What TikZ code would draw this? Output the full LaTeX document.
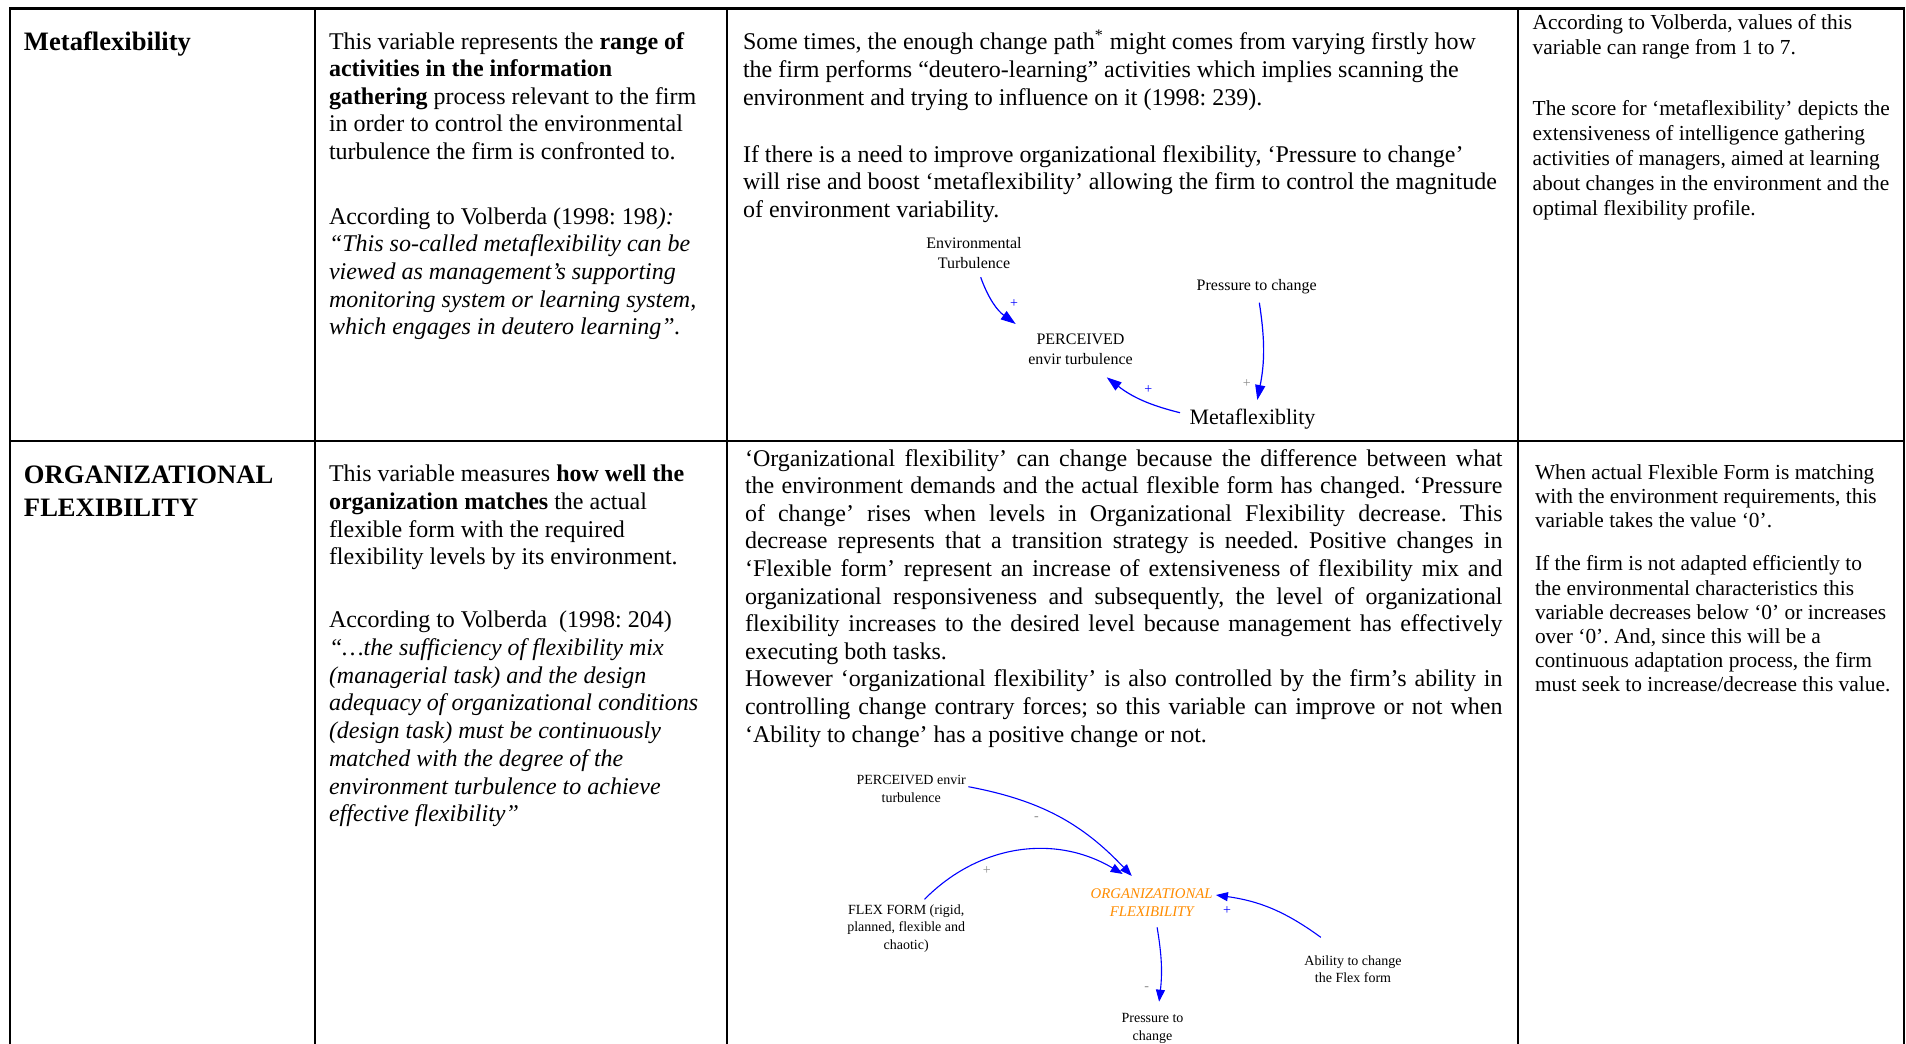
\documentclass[tikz,border=0pt]{standalone}
\usepackage{fontspec}
\setmainfont{Liberation Serif}
\usetikzlibrary{arrows.meta}

\definecolor{cldblue}{RGB}{0,0,255}
\definecolor{cldgrey}{RGB}{140,140,140}
\definecolor{orgorange}{RGB}{255,140,0}

\frenchspacing
% paragraph block: width, font size, line skip, text
\newcommand\cellpar[4]{\parbox[t]{#1}{\fontsize{#2}{#3}\selectfont\raggedright #4}}
% one fully justified line of a paragraph
\newcommand\jline[1]{\makebox[\linewidth][s]{#1}\par}
% centred multi-line variable name, baseline on its first line
\newcommand\ctr[1]{\begin{tabular}[t]{@{}c@{}}#1\end{tabular}}

\begin{document}
\begin{tikzpicture}[x=0.5pt,y=-0.5pt,
  rule/.style={line width=1.4pt, line cap=rect},
  cell/.style={anchor=base west, inner sep=0pt, outer sep=0pt},
  var/.style={anchor=base, inner sep=0pt, outer sep=0pt},
  smallvar/.style={var, font=\fontsize{8}{10}\selectfont},
  tinyvar/.style={var, font=\fontsize{7}{8.7}\selectfont},
  link/.style={draw=cldblue, line width=0.6pt, -{Triangle[length=7.5pt,width=5pt]}},
  linkb/.style={draw=cldblue, line width=0.55pt, -{Triangle[length=6pt,width=4.5pt]}},
  pol/.style={inner sep=0pt, font=\fontsize{7}{8}\selectfont},
]
\useasboundingbox (0,0) rectangle (1906,1044);

% table grid
\draw[rule] (10,8.5) -- (1904,8.5);
\draw[rule] (10,441) -- (1904,441);
\draw[rule] (10,8.5) -- (10,1050);
\draw[rule] (315,8.5) -- (315,1050);
\draw[rule] (727,8.5) -- (727,1050);
\draw[rule] (1518,8.5) -- (1518,1050);
\draw[rule] (1904,8.5) -- (1904,1050);

% ---------- row 1 ----------
\node[cell] (name1) at (24,50) {\cellpar{143pt}{13.3}{15.7}{\bfseries Metaflexibility}};

\node[cell] (def1a) at (329,49.2) {\cellpar{200pt}{12}{13.8}{%
This variable represents the \textbf{range of}\\
\textbf{activities in the information}\\
\textbf{gathering} process relevant to the firm\\
in order to control the environmental\\
turbulence the firm is confronted to.}};

\node[cell] (def1b) at (329,224.2) {\cellpar{200pt}{12}{13.8}{%
According to Volberda (1998: 198\textit{):}\\
\textit{“This so-called metaflexibility can be}\\
\textit{viewed as management's supporting}\\
\textit{monitoring system or learning system,}\\
\textit{which engages in deutero learning”.}}};

\node[cell] (txt1a) at (743,49.2) {\cellpar{385pt}{12}{14.2}{%
Some times, the enough change path\textsuperscript{*} might comes from varying firstly how\\
the firm performs “deutero-learning” activities which implies scanning the\\
environment and trying to influence on it (1998: 239).}};

\node[cell] (txt1b) at (743,162.2) {\cellpar{385pt}{12}{13.75}{%
If there is a need to improve organizational flexibility, ‘Pressure to change’\\
will rise and boost ‘metaflexibility’ allowing the firm to control the magnitude\\
of environment variability.}};

\node[cell] (val1a) at (1532.7,29.5) {\cellpar{186pt}{10.7}{12.45}{%
According to Volberda, values of this\\
variable can range from 1 to 7.}};

\node[cell] (val1b) at (1532.7,115.5) {\cellpar{186pt}{10.7}{12.45}{%
The score for ‘metaflexibility’ depicts the\\
extensiveness of intelligence gathering\\
activities of managers, aimed at learning\\
about changes in the environment and the\\
optimal flexibility profile.}};

% causal loop: metaflexibility
\node[smallvar] (envt) at (974,248.3) {\ctr{Environmental\\Turbulence}};
\node[smallvar] (perc) at (1080.5,344.3) {\ctr{PERCEIVED\\envir turbulence}};
\node[smallvar] (ptc) at (1256.7,290.7) {Pressure to change};
\node[var, font=\fontsize{11}{13}\selectfont] (meta) at (1252.5,424) {Metaflexiblity};

\draw[link] ([shift={(6.7,29)}]envt.base) to[bend right=17] ([shift={(-64.8,-20.3)}]perc.base);
\draw[link] ([shift={(2.6,12)}]ptc.base) to[bend left=10] ([shift={(4.8,-24)}]meta.base);
\draw[link] ([shift={(-72.5,-11.3)}]meta.base) to[bend left=12] ([shift={(26.2,33)}]perc.base);

\node[pol, text=cldblue] (s1) at (1014,303.3) {+};
\node[pol, text=cldgrey] (s2) at (1246.7,383.3) {+};
\node[pol, text=cldblue] (s3) at (1148.3,389.3) {+};

% ---------- row 2 ----------
\node[cell] (name2) at (24,483.6) {\cellpar{143pt}{13.3}{16.3}{\bfseries ORGANIZATIONAL\\FLEXIBILITY}};

\node[cell] (def2a) at (329,481.9) {\cellpar{200pt}{12}{13.8}{%
This variable measures \textbf{how well the}\\
\textbf{organization matches} the actual\\
flexible form with the required\\
flexibility levels by its environment.}};

\node[cell] (def2b) at (329,627.8) {\cellpar{200pt}{12}{13.85}{%
According to Volberda\ \ (1998: 204)\\
\textit{“…the sufficiency of flexibility mix}\\
\textit{(managerial task) and the design}\\
\textit{adequacy of organizational conditions}\\
\textit{(design task) must be continuously}\\
\textit{matched with the degree of the}\\
\textit{environment turbulence to achieve}\\
\textit{effective flexibility”}}};

\node[cell] (txt2) at (745,466.1) {\parbox[t]{378.75pt}{\fontsize{12}{13.8}\selectfont
\jline{‘Organizational flexibility’ can change because the difference between what}
\jline{the environment demands and the actual flexible form has changed. ‘Pressure}
\jline{of change’ rises when levels in Organizational Flexibility decrease. This}
\jline{decrease represents that a transition strategy is needed. Positive changes in}
\jline{‘Flexible form’ represent an increase of extensiveness of flexibility mix and}
\jline{organizational responsiveness and subsequently, the level of organizational}
\jline{flexibility increases to the desired level because management has effectively}
executing both tasks.\par
\jline{However ‘organizational flexibility’ is also controlled by the firm’s ability in}
\jline{controlling change contrary forces; so this variable can improve or not when}
‘Ability to change’ has a positive change or not.}};

\node[cell] (val2a) at (1535,479.3) {\cellpar{186pt}{10.7}{12.1}{%
When actual Flexible Form is matching\\
with the environment requirements, this\\
variable takes the value ‘0’.}};

\node[cell] (val2b) at (1535,570.8) {\cellpar{186pt}{10.7}{12.1}{%
If the firm is not adapted efficiently to\\
the environmental characteristics this\\
variable decreases below ‘0’ or increases\\
over ‘0’. And, since this will be a\\
continuous adaptation process, the firm\\
must seek to increase/decrease this value.}};

% causal loop: organizational flexibility
\node[tinyvar] (perc2) at (911.2,784.7) {\ctr{PERCEIVED envir\\turbulence}};
\node[tinyvar, text=orgorange, font=\fontsize{7.4}{8.9}\selectfont\itshape] (org) at (1151.7,898.7) {\ctr{ORGANIZATIONAL\\FLEXIBILITY}};
\node[tinyvar] (flex) at (906.2,914.3) {\ctr{FLEX FORM (rigid,\\planned, flexible and\\chaotic)}};
\node[tinyvar] (abil) at (1353,965.3) {\ctr{Ability to change\\the Flex form}};
\node[tinyvar] (ptc2) at (1152.5,1022.7) {\ctr{Pressure to\\change}};

\draw[linkb] ([shift={(57.2,2)}]perc2.base) to[bend left=18] ([shift={(-19.9,-22.7)}]org.base);
\draw[linkb] ([shift={(18.3,-15)}]flex.base) to[bend left=38] ([shift={(-29,-24.7)}]org.base);
\draw[linkb] ([shift={(-32.2,-28)}]abil.base) to[bend right=14] ([shift={(64.2,-3.7)}]org.base);
\draw[linkb] ([shift={(5.4,28.6)}]org.base) to[bend left=8] ([shift={(6.6,-21)}]ptc2.base);

\node[pol, text=cldgrey] (s4) at (1036.4,818.3) {-};
\node[pol, text=cldgrey] (s5) at (986.7,870.7) {+};
\node[pol, text=cldblue] (s6) at (1227.1,910.7) {+};
\node[pol, text=cldgrey] (s7) at (1146.7,988.3) {-};
\end{tikzpicture}
\end{document}
